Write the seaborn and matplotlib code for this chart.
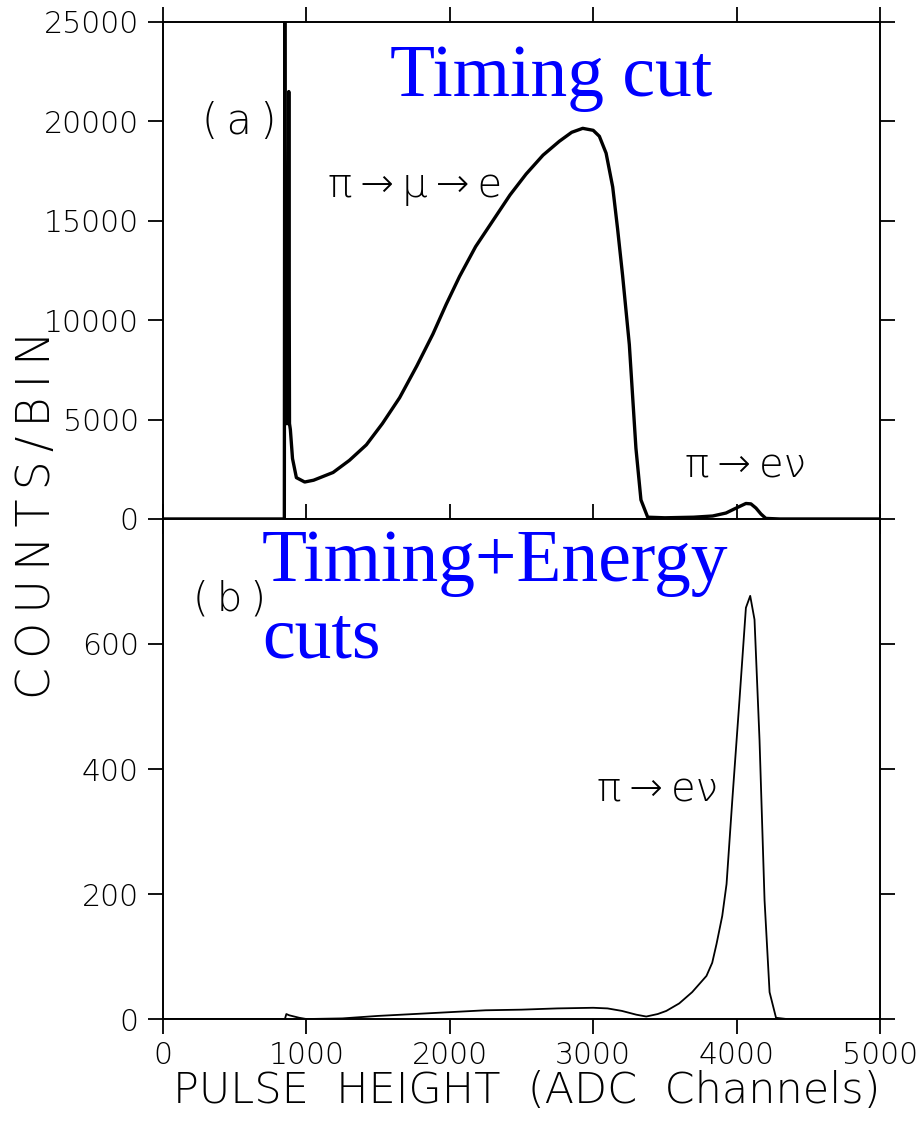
import numpy as np
import pandas as pd
import seaborn as sns
import matplotlib.pyplot as plt

# pulse height spectra
# (a) timing cut only
top_x = [0, 846, 849, 853, 872, 877, 882, 888, 903, 930, 988, 1050, 1186, 1300, 1418,
         1530, 1650, 1770, 1882, 1975, 2068, 2180, 2300, 2420, 2532, 2650, 2764, 2850,
         2927, 3000, 3043, 3090, 3136, 3170, 3205, 3252, 3298, 3333, 3380, 3500, 3700,
         3833, 3926, 4000, 4065, 4100, 4135, 4170, 4204, 4300, 5000]
top_y = [0, 0, 26000, 4800, 4800, 21500, 4800, 4500, 3040, 2080, 1860, 1950, 2340, 2950, 3730,
         4800, 6100, 7700, 9300, 10800, 12200, 13700, 15000, 16300, 17350, 18300, 19000, 19450,
         19650, 19550, 19250, 18400, 16700, 14600, 12250, 8770, 3560, 960, 90, 60, 90,
         150, 300, 560, 780, 760, 550, 250, 30, 0, 0]
# (b) timing + energy cuts
bot_x = [0, 850, 860, 880, 950, 1000, 1250, 1500, 1750, 2000, 2250, 2500, 2750, 3000,
         3100, 3200, 3300, 3370, 3450, 3510, 3600, 3690, 3790, 3830, 3860, 3900, 3930,
         3970, 4020, 4065, 4095, 4125, 4160, 4195, 4230, 4275, 4350, 5000]
bot_y = [0, 0, 8, 6, 2, 0, 1, 5, 8, 11, 14, 15, 17, 18,
         17, 13, 7, 4, 8, 13, 25, 43, 69, 90, 120, 165, 216,
         350, 510, 658, 677, 639, 446, 190, 43, 2, 0, 0]

x_ticks = [0, 1000, 2000, 3000, 4000, 5000]
top_ticks = [0, 5000, 10000, 15000, 20000, 25000]
bot_ticks = [0, 200, 400, 600]

df_top = pd.DataFrame({"x": top_x, "y": top_y})
df_bot = pd.DataFrame({"x": bot_x, "y": bot_y})

sns.set_style("ticks")
plt.rcParams["font.family"] = ["DejaVu Sans"]
plt.rcParams["font.weight"] = "light"
for k in ["text.color", "axes.labelcolor", "xtick.color", "ytick.color", "axes.edgecolor"]:
    plt.rcParams[k] = "black"

fig = plt.figure(figsize=(9.2, 11.27), dpi=100)
ax1 = fig.add_axes([0.1772, 0.5395, 0.7793, 0.4410])
ax2 = fig.add_axes([0.1772, 0.0958, 0.7793, 0.4437])

sns.lineplot(data=df_top, x="x", y="y", ax=ax1, color="black", lw=2.4, estimator=None, sort=False)
sns.lineplot(data=df_bot, x="x", y="y", ax=ax2, color="black", lw=1.3, estimator=None, sort=False)

for ax in (ax1, ax2):
    ax.set_xlim(0, 5000)
    ax.set_xticks(x_ticks)
    ax.set_xlabel("")
    ax.set_ylabel("")
    for s in ax.spines.values():
        s.set_visible(True)
        s.set_linewidth(1.4)
        s.set_color("black")
    ax.tick_params(which="both", direction="out", top=True, right=True, bottom=True, left=True,
                   length=10.5, width=1.3, color="black", labelcolor="black", labelsize=21.5, pad=7)

ax1.set_ylim(0, 25000)
ax1.set_yticks(top_ticks)
ax1.tick_params(labelbottom=False)
ax2.set_ylim(0, 800)
ax2.set_yticks(bot_ticks)
ax2.tick_params(labeltop=False)
ax2.tick_params(axis="x", pad=5)

thin = "\u2009"
# panel labels
ax1.text(530, 20000, "(" + thin + "a" + thin + ")", fontsize=30, ha="center", va="center")
ax2.text(465, 672, "(" + thin + "b" + thin + ")", fontsize=29, ha="center", va="center")
ax1.text(1755, 16700, "π" + thin + "→" + thin + "μ" + thin + "→" + thin + "e",
         fontsize=29, ha="center", va="center")
ax1.text(4060, 2650, "π" + thin + "→" + thin + "eν", fontsize=29, ha="center", va="center")
ax2.text(3447, 366, "π" + thin + "→" + thin + "eν", fontsize=29, ha="center", va="center")

# blue annotations
ax1.text(1581, 21300, "Timing cut", fontsize=53, color="#0000FF",
         family="Liberation Serif", fontweight="normal", ha="left", va="baseline")
ax2.text(689, 701, "Timing+Energy", fontsize=53, color="#0000FF",
         family="Liberation Serif", fontweight="normal", ha="left", va="baseline")
ax2.text(689, 579, "cuts", fontsize=53, color="#0000FF",
         family="Liberation Serif", fontweight="normal", ha="left", va="baseline")

fig.text(0.040, 0.543, thin.join("COUNTS/BIN"), fontsize=33, rotation=90, ha="center", va="center")
fig.text(0.572, 0.032, "PULSE  HEIGHT  (ADC  Channels)", fontsize=31, ha="center", va="center")

fig.savefig("out.png", dpi=100)
